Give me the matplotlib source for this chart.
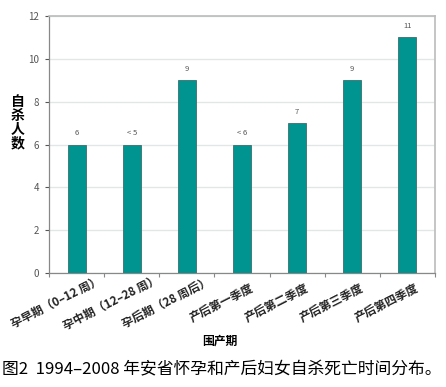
import matplotlib
matplotlib.use("Agg")
import matplotlib.pyplot as plt
import numpy as np

plt.rcParams['font.family'] = ['Noto Sans CJK SC', 'DejaVu Sans']

categories = ['孕早期（0–12 周）', '孕中期（12–28 周）', '孕后期（28 周后）',
              '产后第一季度', '产后第二季度', '产后第三季度', '产后第四季度']
counts = [6, 6, 9, 6, 7, 9, 11]
bar_labels = ['6', '< 5', '9', '< 6', '7', '9', '11']

fig = plt.figure(figsize=(4.46, 3.87), dpi=100)
ax = fig.add_axes([0.110, 0.2946, 0.865, 0.664])

x = np.arange(len(categories))
bars = ax.bar(x, counts, width=0.33, color='#009490', edgecolor='#3d6e6c',
              linewidth=0.6, zorder=3)

for xi, v, lab in zip(x, counts, bar_labels):
    ax.text(xi, v + 0.35, lab, ha='center', va='bottom', fontsize=5.5,
            color='#555555')

ax.set_xlim(-0.5, len(categories) - 0.5)
ax.set_ylim(0, 12)
ax.set_yticks(range(0, 13, 2))
ax.tick_params(axis='y', labelsize=7, colors='#555555', length=3, width=0.8,
               pad=4)
ax.yaxis.grid(True, color='#e3e6e6', linewidth=1.0, zorder=0)

# ticks on category borders, labels at category centres
ax.set_xticks(np.arange(-0.5, len(categories) + 0.5, 1))
ax.set_xticklabels([])
ax.tick_params(axis='x', length=3, width=0.8, colors='#888888')
for xi, lab in zip(x, categories):
    ax.text(xi - 0.37, -1.38, lab, rotation=27, ha='center', va='center',
            rotation_mode='anchor', fontsize=8.4, fontweight='bold',
            color='#222222')

for s in ['left', 'bottom']:
    ax.spines[s].set_color('#888888')
    ax.spines[s].set_linewidth(0.9)
for s in ['top', 'right']:
    ax.spines[s].set_color('#bbbbbb')
    ax.spines[s].set_linewidth(1.2)

fig.text(0.040, 0.682, '自\n杀\n人\n数', ha='center', va='center',
         fontsize=10, fontweight='bold', linespacing=0.98)
fig.text(0.493, 0.119, '围产期', ha='center', va='center', fontsize=8.5,
         fontweight='bold')
fig.text(0.005, 0.045, '图2  1994–2008 年安省怀孕和产后妇女自杀死亡时间分布。',
         ha='left', va='center', fontsize=12.1)

fig.savefig('out.png', dpi=100)
